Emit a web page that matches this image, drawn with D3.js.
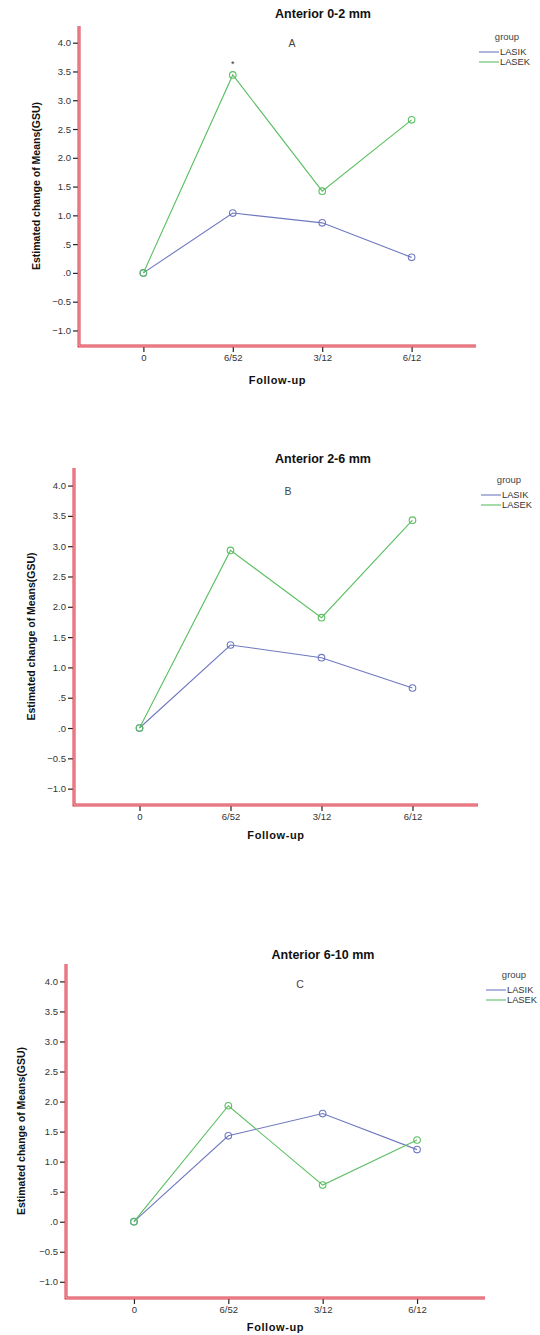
<!DOCTYPE html>
<html>
<head>
<meta charset="utf-8">
<script src="https://cdn.jsdelivr.net/npm/d3@7/dist/d3.min.js"></script>
<style>
  html, body { margin: 0; padding: 0; background: #fff; }
  svg { display: block; font-family: "Liberation Sans", Arial, sans-serif; }
</style>
</head>
<body>
<svg id="chart" width="540" height="1335"></svg>
<script>
// Follow-up time points (x categories)
const timepoints = ["0", "6/52", "3/12", "6/12"];

// Estimated change of means (GSU) per zone
const lasikA = [0, 1.04, 0.87, 0.27];
const lasekA = [0, 3.44, 1.42, 2.66];
const lasikB = [0, 1.37, 1.16, 0.66];
const lasekB = [0, 2.93, 1.82, 3.43];
const lasikC = [0, 1.43, 1.80, 1.20];
const lasekC = [0, 1.93, 0.61, 1.36];

const yTicks = [-1.0, -0.5, 0, 0.5, 1.0, 1.5, 2.0, 2.5, 3.0, 3.5, 4.0];
const groups = ["LASIK", "LASEK"];
const titles = ["Anterior 0-2 mm", "Anterior 2-6 mm", "Anterior 6-10 mm"];
const letters = ["A", "B", "C"];
const significant = [[1], [], []]; // time-point indices flagged with *

const seriesByPanel = [[lasikA, lasekA], [lasikB, lasekB], [lasikC, lasekC]];

// Panel geometry
const layout = [
  { left: 79, top: 26,  right: 476, bottom: 346,  ylabX: 36, titleY: 18,  letterX: 292, letterY: 47,  legX: 479, legY: 37,  xlabY: 384 },
  { left: 74, top: 468, right: 478, bottom: 805,  ylabX: 31, titleY: 463, letterX: 288, letterY: 495, legX: 481, legY: 480, xlabY: 839 },
  { left: 66, top: 964, right: 485, bottom: 1298, ylabX: 21, titleY: 959, letterX: 300, letterY: 988, legX: 486, legY: 975, xlabY: 1331 }
];

const colors = { LASIK: "#6f78c0", LASEK: "#5cbf63" };
const yDomain = [-1.27, 4.29];

const fmt = v => d3.format(".1f")(v).replace(/^(-?)0\./, "$1.");

const svg = d3.select("#chart");

layout.forEach((L, i) => {
  const g = svg.append("g");

  const x = d3.scalePoint().domain(timepoints).range([L.left, L.right]).padding(0.72);
  const y = d3.scaleLinear().domain(yDomain).range([L.bottom, L.top]);

  // y axis ticks and labels
  const ya = g.append("g")
    .attr("transform", `translate(${L.left - 1},0)`)
    .call(d3.axisLeft(y).tickValues(yTicks).tickFormat(fmt).tickSize(5).tickPadding(2));
  ya.select(".domain").remove();
  ya.selectAll("line").attr("stroke", "#222").attr("stroke-width", 1.2);
  ya.selectAll("text").attr("font-size", 9.5).attr("fill", "#333")
    .attr("font-family", "'Liberation Sans', Arial, sans-serif");

  // x axis ticks and labels
  const xa = g.append("g")
    .attr("transform", `translate(0,${L.bottom + 1})`)
    .call(d3.axisBottom(x).tickSize(5).tickPadding(2));
  xa.select(".domain").remove();
  xa.selectAll("line").attr("stroke", "#222").attr("stroke-width", 1.2);
  xa.selectAll("text").attr("font-size", 9.5).attr("fill", "#333")
    .attr("font-family", "'Liberation Sans', Arial, sans-serif");

  // double red axis frame (left + bottom)
  const frame = `M${L.left},${L.top} V${L.bottom} H${L.right}`;
  g.append("path").attr("d", frame).attr("fill", "none")
    .attr("stroke", "#dc3b4b").attr("stroke-width", 3);
  g.append("path").attr("d", frame).attr("fill", "none")
    .attr("stroke", "#f5b9bf").attr("stroke-width", 1);

  // lines and markers
  const line = d3.line().x((d, k) => x(timepoints[k])).y(d => y(d));
  seriesByPanel[i].forEach((vals, s) => {
    const c = colors[groups[s]];
    g.append("path").datum(vals).attr("d", line)
      .attr("fill", "none").attr("stroke", c).attr("stroke-width", 1.1);
    g.selectAll(null).data(vals).enter().append("circle")
      .attr("cx", (d, k) => x(timepoints[k])).attr("cy", d => y(d))
      .attr("r", 3.3).attr("fill", "none").attr("stroke", c).attr("stroke-width", 1.1);
  });

  // significance marks
  significant[i].forEach(k => {
    const top = d3.max(seriesByPanel[i], v => v[k]);
    g.append("text").attr("x", x(timepoints[k])).attr("y", y(top) - 8)
      .attr("text-anchor", "middle").attr("font-size", 9).attr("fill", "#333").text("*");
  });

  // title
  g.append("text").attr("x", 323).attr("y", L.titleY)
    .attr("text-anchor", "middle").attr("font-size", 12.5).attr("font-weight", "bold")
    .attr("fill", "#111").text(titles[i]);

  // panel letter
  g.append("text").attr("x", L.letterX).attr("y", L.letterY)
    .attr("text-anchor", "middle").attr("font-size", 10.5).attr("fill", "#444").text(letters[i]);

  // axis titles
  g.append("text")
    .attr("transform", `translate(${L.ylabX},${(L.top + L.bottom) / 2}) rotate(-90)`)
    .attr("text-anchor", "middle").attr("dy", "0.35em")
    .attr("font-size", 10.5).attr("font-weight", "bold").attr("fill", "#111")
    .text("Estimated change of Means(GSU)");
  g.append("text").attr("x", (L.left + L.right) / 2).attr("y", L.xlabY)
    .attr("text-anchor", "middle").attr("font-size", 11).attr("font-weight", "bold")
    .attr("letter-spacing", 0.6).attr("fill", "#111").text("Follow-up");

  // legend
  const lg = g.append("g");
  lg.append("text").attr("x", L.legX + 28).attr("y", L.legY).attr("dy", "0.35em")
    .attr("text-anchor", "middle").attr("font-size", 9.5).attr("fill", "#444").text("group");
  groups.forEach((name, s) => {
    const yy = L.legY + 15 + s * 10;
    lg.append("line").attr("x1", L.legX).attr("x2", L.legX + 20)
      .attr("y1", yy).attr("y2", yy).attr("stroke", colors[name]).attr("stroke-width", 1.1);
    lg.append("text").attr("x", L.legX + 21).attr("y", yy).attr("dy", "0.35em")
      .attr("font-size", 9.3).attr("fill", "#333").text(name);
  });
});
</script>
</body>
</html>
